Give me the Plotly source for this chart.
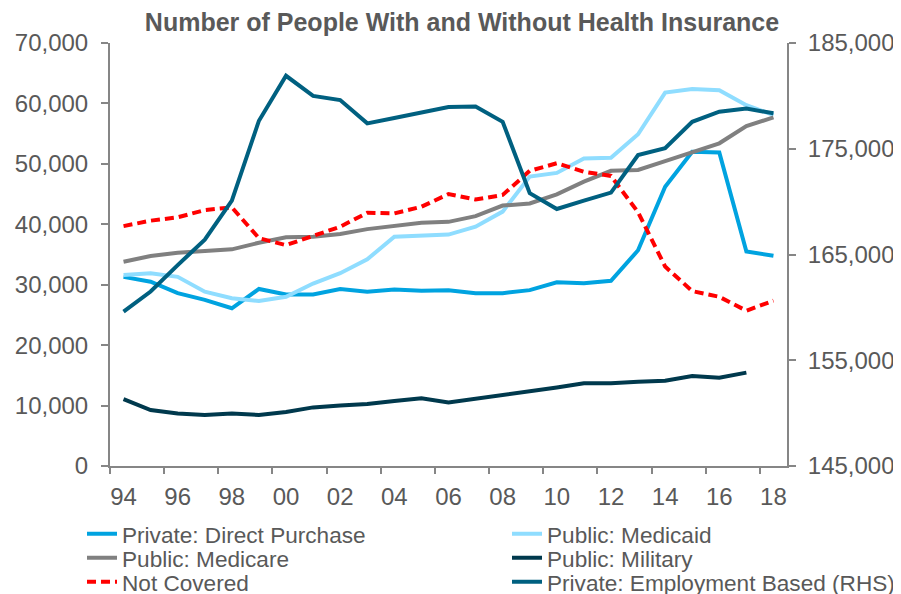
import plotly.graph_objects as go

years = list(range(1994, 2019))
tick_years = list(range(1994, 2019, 2))
tick_labels = ["94", "96", "98", "00", "02", "04", "06", "08", "10", "12", "14", "16", "18"]

direct_purchase = [31300, 30500, 28600, 27500, 26100, 29300, 28400, 28400, 29300, 28850,
                   29200, 29000, 29100, 28600, 28600, 29100, 30400, 30250, 30650, 35700,
                   46200, 52000, 51900, 35500, 34800]
medicaid = [31600, 31900, 31300, 28850, 27750, 27300, 28000, 30200, 31900, 34200,
            37950, 38100, 38300, 39600, 42100, 47900, 48500, 50900, 51000, 54900,
            61800, 62400, 62200, 59700, 58100]
medicare = [33800, 34750, 35300, 35600, 35850, 36950, 37850, 37950, 38400, 39200,
            39800, 40250, 40400, 41350, 43100, 43450, 44950, 47050, 48850, 49000,
            50450, 51850, 53400, 56250, 57700]
military = [11050, 9250, 8700, 8450, 8700, 8450, 8950, 9700, 10000, 10250,
            10750, 11200, 10500, 11100, 11750, 12450, 13000, 13700, 13700, 13950,
            14100, 14900, 14600, 15450, None]
not_covered = [39700, 40600, 41150, 42350, 42800, 37700, 36550, 38050, 39600, 41900,
               41800, 42900, 45000, 44100, 44850, 48850, 50100, 48700, 48000, 42000,
               33000, 28950, 28000, 25700, 27350]
employment = [159600, 161500, 164000, 166400, 170100, 177650, 181900, 180000, 179600, 177400,
              177900, 178400, 178950, 179000, 177550, 170800, 169300, 170100, 170850, 174400,
              175050, 177550, 178500, 178800, 178350]

FONT = "Liberation Sans, Arial, sans-serif"
TXT = "#595959"
AX = "#868686"
LW = 4

fig = go.Figure()


def add(name, y, color, legend, yaxis="y", dash="solid"):
    fig.add_trace(go.Scatter(
        x=years, y=y, name=name, mode="lines", yaxis=yaxis, legend=legend,
        line=dict(color=color, width=LW, dash=dash), connectgaps=False,
    ))


add("Private: Direct Purchase", direct_purchase, "#00A3E0", "legend")
add("Public: Medicaid", medicaid, "#8FDDFF", "legend2")
add("Public: Medicare", medicare, "#808080", "legend3")
add("Public: Military", military, "#00394D", "legend4")
add("Not Covered", not_covered, "#FF0000", "legend5", dash="9px,5px")
add("Private: Employment Based (RHS)", employment, "#006080", "legend6", yaxis="y2")

# the page body has an 8px margin, so target screen positions are shifted by -8px
OFF = 8
W, H = 901, 594
L, T = 110 - OFF, 43 - OFF
R, B = W - (787 - OFF), H - (466 - OFF)


def leg(px, py):
    return dict(x=(px - OFF) / W, y=1 - (py - OFF) / H, xref="container", yref="container",
                xanchor="left", yanchor="middle",
                font=dict(family=FONT, size=22.6, color=TXT), bgcolor="rgba(0,0,0,0)",
                borderwidth=0, itemwidth=30, tracegroupgap=0)


c1, c2 = 82, 507
r1, r2, r3 = 534, 558, 582

fig.update_layout(
    width=W, height=H,
    margin=dict(l=L, r=R, t=T, b=B, autoexpand=False),
    paper_bgcolor="white", plot_bgcolor="white",
    font=dict(family=FONT, size=23, color=TXT),
    title=dict(text="<b>Number of People With and Without Health Insurance</b>",
               x=(462 - OFF) / W, xanchor="center", y=1 - (22 - OFF) / H, yanchor="middle",
               xref="container", yref="container",
               font=dict(family=FONT, size=25, color=TXT)),
    showlegend=True,
    legend=leg(c1, r1), legend2=leg(c2, r1),
    legend3=leg(c1, r2), legend4=leg(c2, r2),
    legend5=leg(c1, r3), legend6=leg(c2, r3),
    xaxis=dict(range=[1993.5, 2018.5], tickmode="array", tickvals=tick_years,
               ticktext=tick_labels, ticks="", showgrid=False, zeroline=False,
               showline=True, linecolor=AX, linewidth=2, automargin=False,
               tickfont=dict(family=FONT, size=24, color=TXT), ticklabelstandoff=8,
               minor=dict(tickmode="linear", tick0=1993.5, dtick=2, ticks="outside",
                          ticklen=6, tickcolor=AX, tickwidth=2, showgrid=False)),
    yaxis=dict(range=[0, 70000], dtick=10000, tickformat=",", showgrid=False,
               zeroline=False, showline=True, linecolor=AX, linewidth=2,
               ticks="outside", ticklen=7, tickcolor=AX, tickwidth=2, automargin=False,
               tickfont=dict(family=FONT, size=24, color=TXT), ticklabelstandoff=8),
    yaxis2=dict(range=[145000, 185000], tick0=145000, dtick=10000, tickformat=",",
                overlaying="y", side="right", showgrid=False, zeroline=False,
                showline=True, automargin=False,
                linecolor=AX, linewidth=2, ticks="outside", ticklen=7, tickcolor=AX,
                tickwidth=2, tickfont=dict(family=FONT, size=24, color=TXT),
                ticklabelstandoff=7),
)

fig.write_html("out.html")
